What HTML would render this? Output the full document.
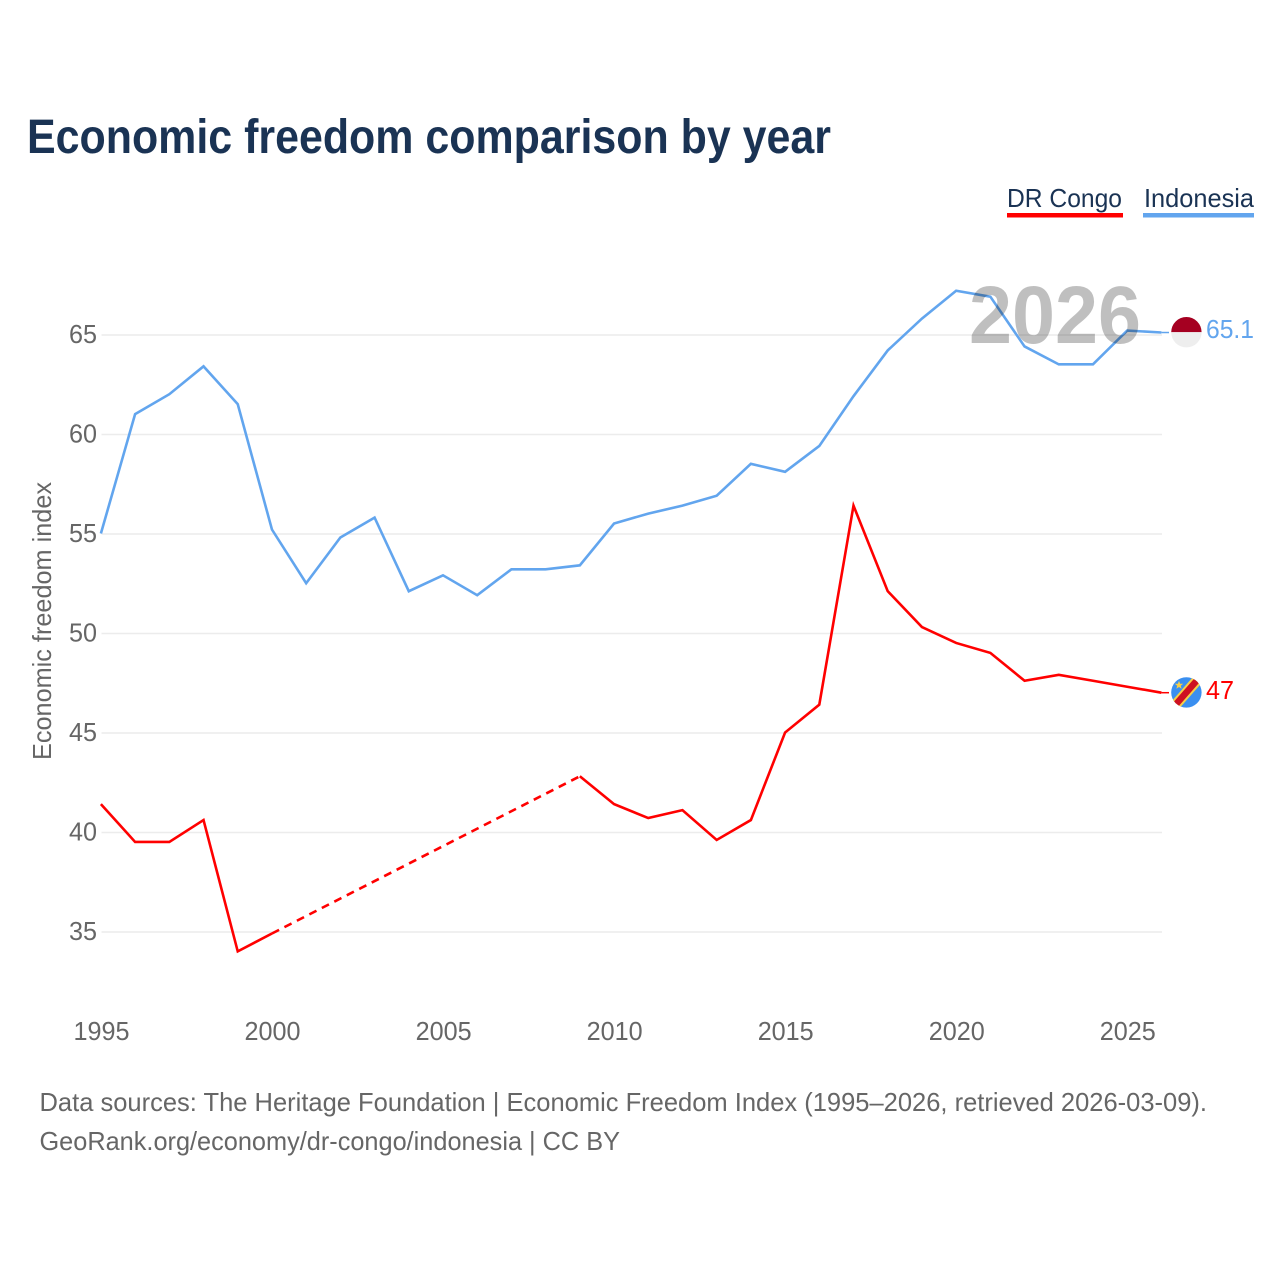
<!DOCTYPE html>
<html lang="en">
<head>
<meta charset="utf-8">
<title>Economic freedom comparison by year</title>
<style>
html,body{margin:0;padding:0;background:#fff;}
svg{display:block;font-family:"Liberation Sans",sans-serif;}
</style>
</head>
<body>
<svg id="chart" xmlns="http://www.w3.org/2000/svg" width="1280" height="1280" viewBox="0 0 1280 1280">
  <defs>
    <clipPath id="clip-id"><circle cx="1186.4" cy="332.2" r="15.2"/></clipPath>
    <clipPath id="clip-cd"><circle cx="1186.4" cy="692.4" r="15.2"/></clipPath>
  </defs>
  <rect x="0" y="0" width="1280" height="1280" fill="#ffffff"/>
  <text x="27" y="153" font-size="48" font-weight="700" fill="#1a3354" textLength="804" lengthAdjust="spacingAndGlyphs">Economic freedom comparison by year</text>

  <g id="grid"></g>
  <g id="y-axis"></g>
  <g id="x-axis"></g>
  <text transform="translate(51 621) rotate(-90)" text-anchor="middle" font-size="26" fill="#666666" textLength="278" lengthAdjust="spacingAndGlyphs">Economic freedom index</text>

  <g id="series"></g>

  <text x="969" y="343" font-size="82" font-weight="700" fill="#000000" fill-opacity="0.25" textLength="172" lengthAdjust="spacingAndGlyphs">2026</text>

  <g>
    <text x="1007" y="207" font-size="26" fill="#1a3354" textLength="115" lengthAdjust="spacingAndGlyphs">DR Congo</text>
    <rect x="1007" y="213" width="116" height="4.5" fill="#ff0000"/>
  </g>
  <g>
    <text x="1144" y="207" font-size="26" fill="#1a3354" textLength="110" lengthAdjust="spacingAndGlyphs">Indonesia</text>
    <rect x="1143" y="213" width="111" height="4.5" fill="#62a5ee"/>
  </g>

  <g clip-path="url(#clip-id)">
    <rect x="1170" y="316" width="33" height="16.2" fill="#a50021"/>
    <rect x="1170" y="332.2" width="33" height="16.5" fill="#eeeeee"/>
  </g>
  <g clip-path="url(#clip-cd)">
    <rect x="1170" y="676" width="33" height="33" fill="#3a8ff0"/>
    <line x1="1169.9" y1="711.2" x2="1202.9" y2="673.6" stroke="#f7cf46" stroke-width="10.5"/>
    <line x1="1169.9" y1="711.2" x2="1202.9" y2="673.6" stroke="#ce1021" stroke-width="6.5"/>
    <polygon points="1179,680.8 1180.1,683.7 1183.2,683.8 1180.8,685.7 1181.6,688.7 1179,687 1176.4,688.7 1177.2,685.7 1174.8,683.8 1177.9,683.7" fill="#f7cf46"/>
  </g>

  <text x="39.5" y="1111" font-size="26" fill="#666666" textLength="1167.5" lengthAdjust="spacingAndGlyphs">Data sources: The Heritage Foundation | Economic Freedom Index (1995–2026, retrieved 2026-03-09).</text>
  <text x="39.5" y="1150" font-size="26" fill="#666666" textLength="580.5" lengthAdjust="spacingAndGlyphs">GeoRank.org/economy/dr-congo/indonesia | CC BY</text>
</svg>
<script>
var years = [1995,1996,1997,1998,1999,2000,2001,2002,2003,2004,2005,2006,2007,2008,2009,2010,2011,2012,2013,2014,2015,2016,2017,2018,2019,2020,2021,2022,2023,2024,2025,2026];
var indonesiaValues = [55.0,61.0,62.0,63.4,61.5,55.2,52.5,54.8,55.8,52.1,52.9,51.9,53.2,53.2,53.4,55.5,56.0,56.4,56.9,58.5,58.1,59.4,61.9,64.2,65.8,67.2,66.9,64.4,63.5,63.5,65.2,65.1];
var drCongoValues = [41.4,39.5,39.5,40.6,34.0,34.9,null,null,null,null,null,null,null,null,42.8,41.4,40.7,41.1,39.6,40.6,45.0,46.4,56.4,52.1,50.3,49.5,49.0,47.6,47.9,47.6,47.3,47.0];
var yTicks = [35,40,45,50,55,60,65];
var xTicks = [1995,2000,2005,2010,2015,2020,2025];
var seriesLabels = ['65.1','47'];

function xScale(year){ return 101.5 + (year - 1995) * (1162 - 101.5) / 31; }
function yScale(value){ return 335 + (65 - value) * 19.9; }
/* lines sit a touch up-left of the gridlines in the original rendering */
function lineX(year){ return xScale(year) - 0.6; }
function lineY(value){ return yScale(value) - 0.5; }

var NS = 'http://www.w3.org/2000/svg';
function make(parent, tag, attrs, text){
  var el = document.createElementNS(NS, tag);
  for (var k in attrs) el.setAttribute(k, attrs[k]);
  if (text !== undefined) el.textContent = text;
  parent.appendChild(el);
  return el;
}

var gridG = document.getElementById('grid');
var yG = document.getElementById('y-axis');
var xG = document.getElementById('x-axis');
var seriesG = document.getElementById('series');

yTicks.forEach(function(t){
  var line = make(gridG, 'line', {x1:xScale(1995), x2:xScale(2026), y1:yScale(t), y2:yScale(t), stroke:'#ececec', 'stroke-width':1.5});
  
  
  var label = make(yG, 'text', {x:97, y:yScale(t)+8, 'text-anchor':'end', 'font-size':26, fill:'#666666', textLength:28, lengthAdjust:'spacingAndGlyphs'}, String(t));
  
  
});

xTicks.forEach(function(t){
  var label = make(xG, 'text', {x:xScale(t), y:1040, 'text-anchor':'middle', 'font-size':26, fill:'#666666', textLength:56, lengthAdjust:'spacingAndGlyphs'}, String(t));
  
  
});

function pointsOf(values, from, to){
  var pts = [];
  for (var i = from; i <= to; i++) {
    if (values[i] !== null) pts.push(lineX(years[i]).toFixed(2) + ',' + lineY(values[i]).toFixed(2));
  }
  return pts.join(' ');
}

function drawSeries(values, color, key){
  var i = 0, n = values.length, segment = 0;
  while (i < n) {
    while (i < n && values[i] === null) i++;
    var start = i;
    while (i + 1 < n && values[i + 1] !== null) i++;
    var solid = make(seriesG, 'polyline', {points:pointsOf(values, start, i), fill:'none', stroke:color, 'stroke-width':2.6, 'stroke-linejoin':'miter'});
    
    
    segment++;
    var next = i + 1;
    while (next < n && values[next] === null) next++;
    if (next < n) {
      var gap = make(seriesG, 'line', {x1:lineX(years[i]), y1:lineY(values[i]), x2:lineX(years[next]), y2:lineY(values[next]), stroke:color, 'stroke-width':2.6, 'stroke-dasharray':'8 6'});
      
      
    }
    i = next;
  }
  var last = values[n - 1];
  var connector = make(seriesG, 'line', {x1:lineX(years[n - 1]), y1:lineY(last), x2:1169, y2:lineY(last), stroke:color, 'stroke-width':1.5});
  
  
}

drawSeries(indonesiaValues, '#62a5ee', 'indonesia');
drawSeries(drCongoValues, '#ff0000', 'dr-congo');

var endId = make(seriesG, 'text', {x:1206, y:yScale(indonesiaValues[31])+5, 'font-size':26, fill:'#62a5ee', textLength:48, lengthAdjust:'spacingAndGlyphs'}, seriesLabels[0]);


var endCd = make(seriesG, 'text', {x:1206, y:yScale(drCongoValues[31])+6, 'font-size':26, fill:'#ff0000', textLength:28, lengthAdjust:'spacingAndGlyphs'}, seriesLabels[1]);


</script>
</body>
</html>
